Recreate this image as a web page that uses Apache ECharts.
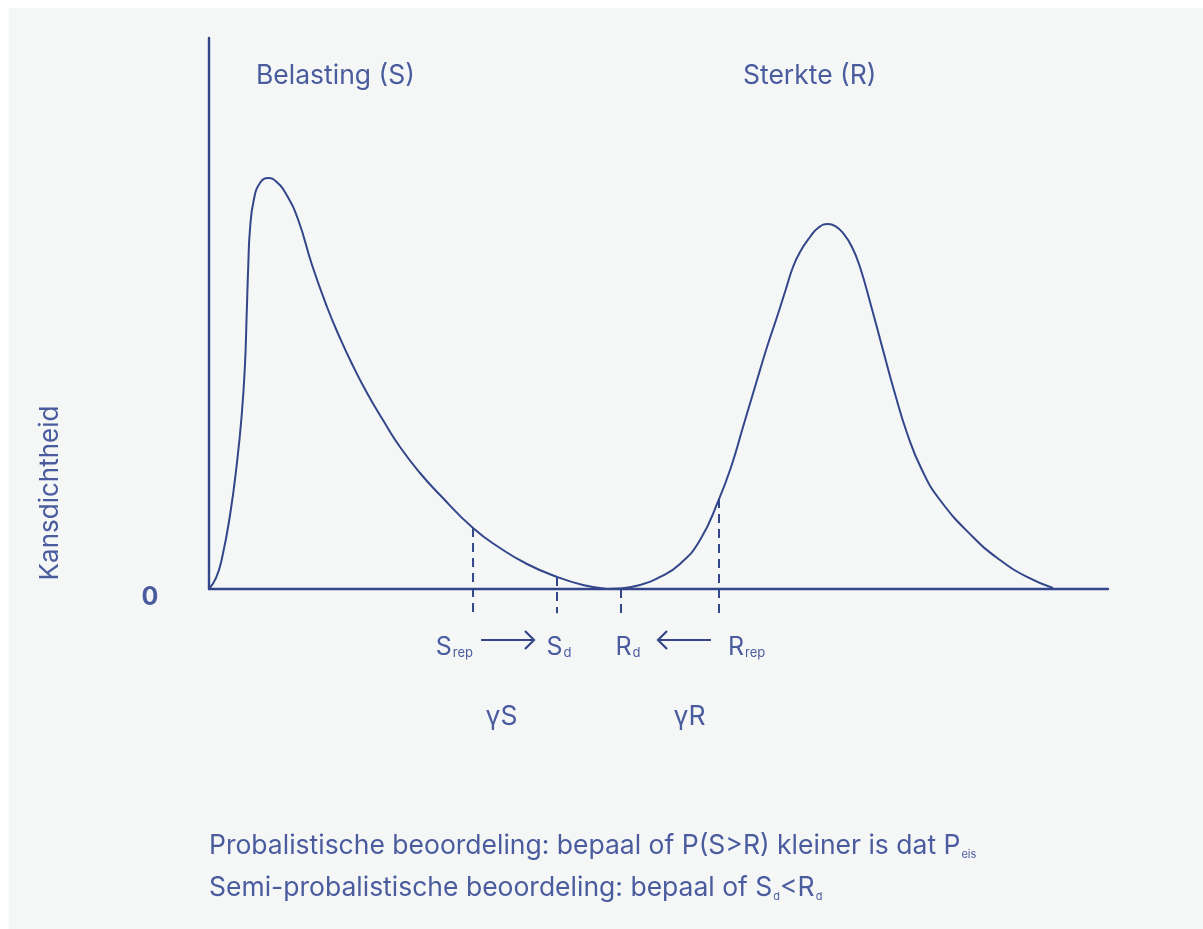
<!DOCTYPE html>
<html><head><meta charset="utf-8">
<script src="https://cdn.jsdelivr.net/npm/echarts@6/dist/echarts.min.js"></script>
<style>
html,body{margin:0;padding:0;background:#ffffff;}
#bg{position:absolute;left:9px;top:8px;right:0;bottom:0;background:#f5f7f7;}
#c{position:absolute;left:0;top:0;width:1203px;height:929px;}
</style></head>
<body><div id="bg"></div><div id="c"></div>
<script>
// Belasting (S) curve
const loadX = [0, 0.78, 1.45, 2.34, 3.08, 3.64, 4.00, 4.19, 4.37, 4.56, 4.98, 5.67, 6.60, 7.53, 8.64, 9.93, 11.46, 13.13, 14.57, 16.02, 17.58, 19.35, 21.25, 23.47, 25.70, 29.37, 32.37, 35.37, 38.71, 41.60, 44.27];
const loadY = [0, 2.00, 5.63, 13.43, 22.50, 31.58, 40.65, 49.73, 58.80, 65.30, 70.60, 73.68, 74.59, 73.87, 71.51, 66.97, 58.80, 51.18, 45.55, 40.47, 35.57, 30.67, 25.77, 21.05, 17.06, 11.07, 7.44, 4.54, 2.18, 0.73, 0];
// Sterkte (R) curve
const strengthX = [44.27, 45.72, 47.94, 50.17, 52.39, 54.62, 56.73, 58.07, 59.40, 60.96, 62.07, 63.18, 64.07, 64.96, 65.74, 66.85, 67.74, 68.85, 69.74, 70.52, 71.52, 72.41, 73.59, 74.97, 76.25, 77.64, 79.31, 81.31, 84.98, 87.99, 90.99, 93.88];
const strengthY = [0, 0.09, 0.73, 2.18, 4.54, 8.89, 16.33, 22.14, 29.40, 37.93, 43.92, 49.36, 53.90, 58.44, 61.16, 63.88, 65.52, 66.24, 65.77, 64.61, 62.07, 58.44, 51.72, 43.38, 35.75, 28.31, 21.60, 16.15, 9.44, 5.26, 2.18, 0.18];
// markers (S_rep, S_d, R_d, R_rep)
const markerMain = ['S', 'S', 'R', 'R'];
const markerSub = ['rep', 'd', 'd', 'rep'];
const markerX = [29.37, 38.71, 45.83, 56.73];
const markerTop = [11.07, 2.18, 0, 16.33];
const markerBottom = -4.4;
const factorLabels = ['γS', 'γR'];
const curveTitles = ['Belasting (S)', 'Sterkte (R)'];
const yAxisTitle = 'Kansdichtheid';
const yTickLabel = '0';
const footLines = [
  ['Probalistische beoordeling: bepaal of P(S>R) kleiner is dat P', 'eis'],
  ['Semi-probalistische beoordeling: bepaal of S', 'd', '<R', 'd']
];

const LINE = '#33468a';
const TEXT = '#4a5c9e';
const FONT = 'Inter';
const FS = 26.5;

const chart = echarts.init(document.getElementById('c'), null, {renderer: 'canvas'});
const seriesList = [
  {type: 'line', data: loadX.map((x, i) => [x, loadY[i]]), smooth: 0.5, symbol: 'none',
   lineStyle: {color: LINE, width: 2}, silent: true, z: 3},
  {type: 'line', data: strengthX.map((x, i) => [x, strengthY[i]]), smooth: 0.5, symbol: 'none',
   lineStyle: {color: LINE, width: 2}, silent: true, z: 3}
];
markerX.forEach((x, i) => {
  seriesList.push({type: 'line', data: [[x, markerTop[i]], [x, markerBottom]], clip: false, symbol: 'none',
    lineStyle: {color: LINE, width: 2, type: [9, 6]}, silent: true, z: 2});
});

chart.setOption({
  animation: false,
  backgroundColor: 'transparent',
  grid: {left: 209, right: 95, top: 38, bottom: 340},
  xAxis: {type: 'value', min: 0, max: 100, axisLine: {lineStyle: {color: LINE, width: 2.4}},
    axisTick: {show: false}, axisLabel: {show: false}, splitLine: {show: false}},
  yAxis: {type: 'value', min: 0, max: 100, axisLine: {show: true, lineStyle: {color: LINE, width: 2.4}},
    axisTick: {show: false}, axisLabel: {show: false}, splitLine: {show: false}},
  series: seriesList
});

const px = (x, y) => chart.convertToPixel({gridIndex: 0}, [x, y]);
const g = [];
const tstyle = (extra) => Object.assign({fill: TEXT, fontFamily: FONT, fontSize: FS}, extra);

const origin = px(0, 0);
g.push({type: 'text', x: 256, y: 76, style: tstyle({text: curveTitles[0], verticalAlign: 'middle'})});
g.push({type: 'text', x: 743, y: 76, style: tstyle({text: curveTitles[1], verticalAlign: 'middle'})});
g.push({type: 'text', x: 50, y: 493, rotation: Math.PI / 2, style: tstyle({text: yAxisTitle, align: 'center', verticalAlign: 'middle', fontSize: 26})});
g.push({type: 'text', x: 150, y: origin[1] + 8, style: tstyle({text: yTickLabel, align: 'center', verticalAlign: 'middle', fontWeight: 'bold', fontSize: 25})});

const aligns = ['right', 'center', 'center', 'left'];
const dx = [0, 2, 7, 9];
const richSub = {m: {fontSize: 25, fill: TEXT, fontFamily: FONT, verticalAlign: 'bottom', lineHeight: 30},
                 s: {fontSize: 13, fill: TEXT, fontFamily: FONT, verticalAlign: 'bottom', lineHeight: 20, padding: [0, 0, 0, 1]}};
markerX.forEach((x, i) => {
  const p = px(x, 0);
  g.push({type: 'text', x: p[0] + dx[i], y: origin[1] + 71, style: tstyle({
    text: '{m|' + markerMain[i] + '}{s|' + markerSub[i] + '}', align: aligns[i], verticalAlign: 'bottom', rich: richSub
  })});
});
const arrowY = origin[1] + 51;
const a1 = px(markerX[0], 0)[0] + 8, a2 = px(markerX[1], 0)[0] - 23;
const b1 = px(markerX[3], 0)[0] - 8, b2 = px(markerX[2], 0)[0] + 37;
const ls = {stroke: LINE, lineWidth: 2.2, fill: null};
g.push({type: 'polyline', shape: {points: [[a1, arrowY], [a2, arrowY]]}, style: ls});
g.push({type: 'polyline', shape: {points: [[a2 - 9, arrowY - 9], [a2, arrowY], [a2 - 9, arrowY + 9]]}, style: ls});
g.push({type: 'polyline', shape: {points: [[b1, arrowY], [b2, arrowY]]}, style: ls});
g.push({type: 'polyline', shape: {points: [[b2 + 9, arrowY - 9], [b2, arrowY], [b2 + 9, arrowY + 9]]}, style: ls});
g.push({type: 'text', x: (a1 + a2) / 2 - 6, y: origin[1] + 128, style: tstyle({text: factorLabels[0], align: 'center', verticalAlign: 'middle'})});
g.push({type: 'text', x: (b1 + b2) / 2 + 5, y: origin[1] + 128, style: tstyle({text: factorLabels[1], align: 'center', verticalAlign: 'middle'})});

const footRich = {m: {fontSize: FS, fill: TEXT, fontFamily: FONT, verticalAlign: 'bottom', lineHeight: 32},
                  s: {fontSize: 11, fill: TEXT, fontFamily: FONT, verticalAlign: 'bottom', lineHeight: 20, padding: [0, 0, 0, 1]}};
g.push({type: 'text', x: origin[0], y: 860, style: tstyle({text: '{m|' + footLines[0][0] + '}{s|' + footLines[0][1] + '}', verticalAlign: 'bottom', rich: footRich})});
g.push({type: 'text', x: origin[0], y: 902, style: tstyle({text: '{m|' + footLines[1][0] + '}{s|' + footLines[1][1] + '}{m|' + footLines[1][2] + '}{s|' + footLines[1][3] + '}', verticalAlign: 'bottom', rich: footRich})});

chart.setOption({graphic: g});
</script>
</body></html>
